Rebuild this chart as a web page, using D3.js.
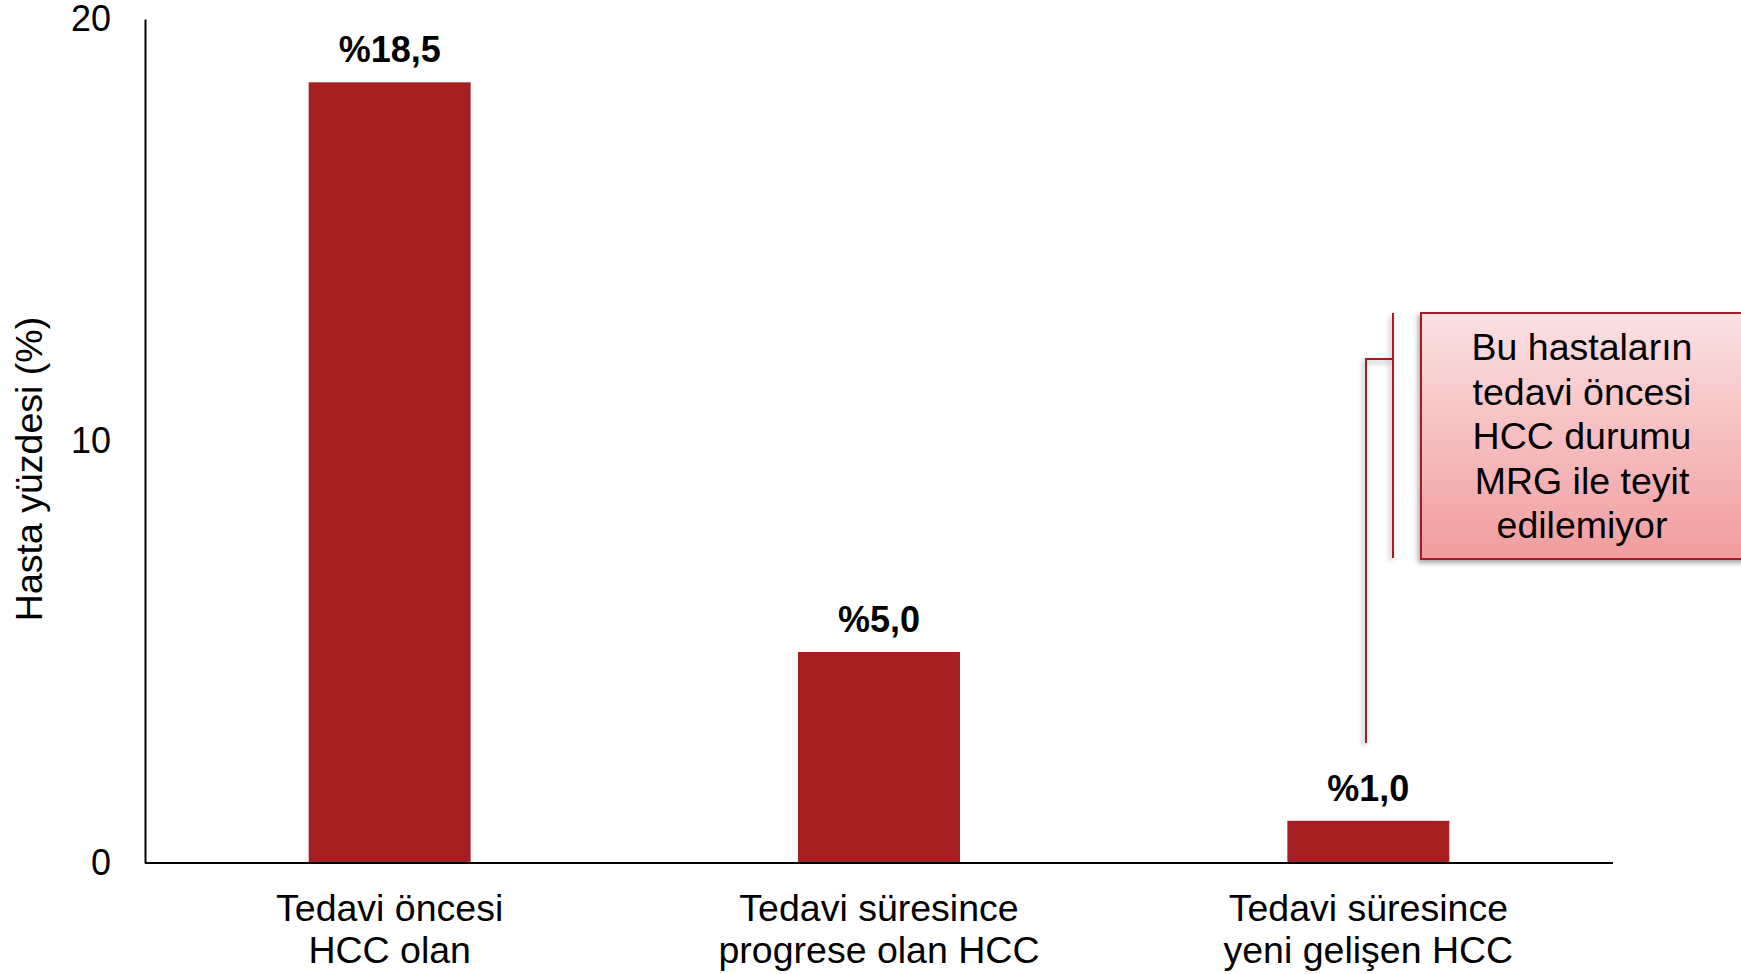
<!DOCTYPE html>
<html>
<head>
<meta charset="utf-8">
<script src="https://cdn.jsdelivr.net/npm/d3@7"></script>
<style>
  html, body { margin: 0; padding: 0; background: white; }
  #container { width: 1741px; height: 974px; }
  text { font-family: Arial, 'Liberation Sans', sans-serif; }
</style>
</head>
<body>
<div id="container"></div>
<script>
// chart data
let categories = [
    ['Tedavi öncesi', 'HCC olan'],
    ['Tedavi süresince', 'progrese olan HCC'],
    ['Tedavi süresince', 'yeni gelişen HCC']
];
let values = [18.5, 5.0, 1.0];
let valueLabels = ['%18,5', '%5,0', '%1,0'];
let yTicks = [0, 10, 20];
let yTitle = 'Hasta yüzdesi (%)';
let noteLines = ['Bu hastaların', 'tedavi öncesi', 'HCC durumu', 'MRG ile teyit', 'edilemiyor'];

let w = 1741,
    h = 974;

let viz = d3.select('#container')
    .append('svg')
      .attr('width', w)
      .attr('height', h)
      .style('background', 'white');

let plotLeft = 145, plotRight = 1613, plotTop = 19, plotBottom = 863;
let textSize = 37.5;

let x = d3.scaleBand()
    .domain(d3.range(categories.length))
    .range([plotLeft, plotRight])
    .paddingInner(0.669)
    .paddingOuter(0.3345);

let y = d3.scaleLinear()
    .domain([0, 20])
    .range([plotBottom, plotTop]);

let defs = viz.append('defs');
let grad = defs.append('linearGradient')
    .attr('id', 'noteFill')
    .attr('x1', 0).attr('y1', 0).attr('x2', 0).attr('y2', 1);
grad.append('stop').attr('offset', '0%').attr('stop-color', '#fbe1e3');
grad.append('stop').attr('offset', '100%').attr('stop-color', '#f19c9e');

// user space filter so zero-width lines still render
let shadow = defs.append('filter')
    .attr('id', 'shadow')
    .attr('filterUnits', 'userSpaceOnUse')
    .attr('x', 0).attr('y', 0).attr('width', w).attr('height', h);
shadow.append('feDropShadow')
    .attr('dx', -2).attr('dy', 3)
    .attr('stdDeviation', 2.5)
    .attr('flood-color', '#000')
    .attr('flood-opacity', 0.35);

// bars
viz.append('g').selectAll('rect')
    .data(values)
    .enter()
    .append('rect')
      .attr('x', (d, i) => x(i))
      .attr('y', d => y(d))
      .attr('width', x.bandwidth())
      .attr('height', d => y(0) - y(d))
      .attr('fill', '#a51f22');

// value labels
viz.append('g').selectAll('text')
    .data(values)
    .enter()
    .append('text')
      .attr('x', (d, i) => x(i) + x.bandwidth() / 2)
      .attr('y', d => y(d) - 20)
      .attr('text-anchor', 'middle')
      .attr('font-size', 36)
      .attr('font-weight', 'bold')
      .attr('fill', 'black')
      .text((d, i) => valueLabels[i]);

// y axis
let yAxis = viz.append('g')
    .attr('transform', 'translate(' + plotLeft + ',0)')
    .call(d3.axisLeft(y).tickValues(yTicks).tickSize(0).tickPadding(34));
yAxis.select('.domain').attr('stroke', 'black').attr('stroke-width', 2);
yAxis.selectAll('text')
    .attr('font-size', 36)
    .attr('fill', 'black')
    .attr('font-family', "Arial, 'Liberation Sans', sans-serif");

// x axis line
viz.append('line')
    .attr('x1', plotLeft).attr('x2', plotRight)
    .attr('y1', plotBottom).attr('y2', plotBottom)
    .attr('stroke', 'black')
    .attr('stroke-width', 2);

// category labels
let cats = viz.append('g').selectAll('text')
    .data(categories)
    .enter()
    .append('text')
      .attr('x', (d, i) => x(i) + x.bandwidth() / 2)
      .attr('y', 921)
      .attr('text-anchor', 'middle')
      .attr('font-size', textSize)
      .attr('fill', 'black');
cats.selectAll('tspan')
    .data(d => d)
    .enter()
    .append('tspan')
      .attr('x', function () { return d3.select(this.parentNode).attr('x'); })
      .attr('dy', (d, i) => i === 0 ? 0 : 42)
      .text(d => d);

// y title
viz.append('text')
    .attr('transform', 'translate(42,' + 469 + ') rotate(-90)')
    .attr('text-anchor', 'middle')
    .attr('font-size', textSize)
    .attr('fill', 'black')
    .text(yTitle);

// annotation bracket
let bx = 1366, bTop = 359, bBottom = 743, vx = 1393;
viz.append('path')
    .attr('d', 'M' + bx + ',' + bBottom + ' L' + bx + ',' + bTop + ' L' + vx + ',' + bTop)
    .attr('fill', 'none')
    .attr('stroke', '#a51f22')
    .attr('stroke-width', 2)
    .attr('filter', 'url(#shadow)');
viz.append('line')
    .attr('x1', vx).attr('x2', vx)
    .attr('y1', 313).attr('y2', 558)
    .attr('stroke', '#a51f22')
    .attr('stroke-width', 2)
    .attr('filter', 'url(#shadow)');

// annotation box
viz.append('rect')
    .attr('x', 1421).attr('y', 313)
    .attr('width', 340).attr('height', 246)
    .attr('fill', 'url(#noteFill)')
    .attr('stroke', '#a51f22')
    .attr('stroke-width', 2)
    .attr('filter', 'url(#shadow)');

viz.append('g').selectAll('text')
    .data(noteLines)
    .enter()
    .append('text')
      .attr('x', 1582)
      .attr('y', (d, i) => 360 + i * 44.6)
      .attr('text-anchor', 'middle')
      .attr('font-size', textSize)
      .attr('fill', 'black')
      .text(d => d);
</script>
</body>
</html>
